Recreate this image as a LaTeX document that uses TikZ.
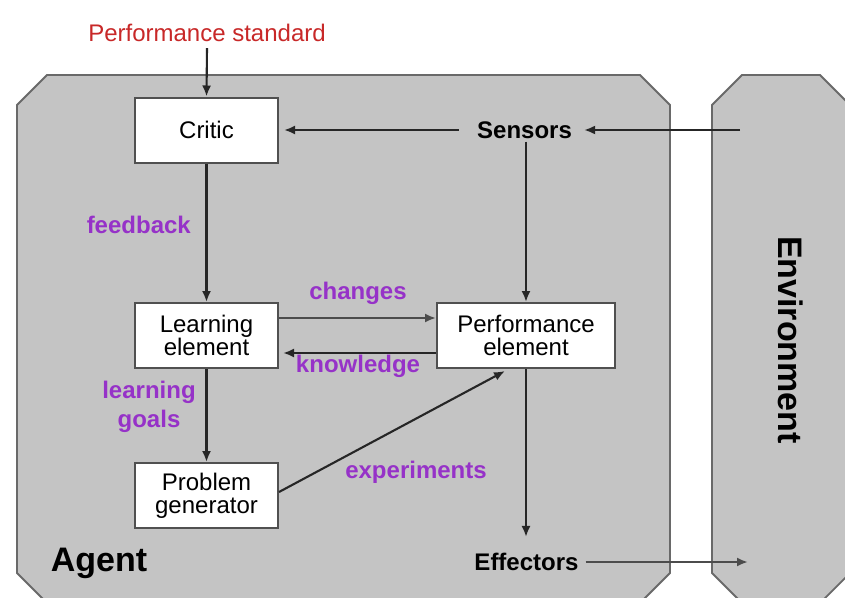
\documentclass[tikz,border=0pt]{standalone}
\usepackage{fontspec}
\setmainfont{Liberation Sans}
\usetikzlibrary{arrows.meta}

\definecolor{agentgray}{RGB}{196,196,196}
\definecolor{edgegray}{RGB}{105,105,105}
\definecolor{boxedge}{RGB}{80,80,80}
\definecolor{labpurple}{RGB}{150,50,200}
\definecolor{stdred}{RGB}{200,40,40}

\begin{document}
\begin{tikzpicture}[x=1pt,y=-1pt,
  panel/.style={fill=agentgray, draw=edgegray, line width=1.8pt},
  elem/.style={draw=boxedge, fill=white, line width=2pt, minimum width=143pt, minimum height=65pt, align=center, inner sep=0pt, font=\fontsize{24}{23}\selectfont},
  lab/.style={text=labpurple, font=\bfseries\fontsize{24}{29}\selectfont, align=center, inner sep=0pt},
  io/.style={font=\bfseries\fontsize{24}{28}\selectfont, inner sep=0pt},
  big/.style={font=\bfseries\fontsize{34}{40}\selectfont, inner sep=0pt},
  arr/.style={-{Latex[length=11pt,width=9pt]}, line width=2.1pt, draw=black!85},
]
\useasboundingbox (0,0) rectangle (845,597);
\fill[white] (0,0) rectangle (845,597);

% panels
\draw[panel] (17,105) -- (47,75) -- (640,75) -- (670,105) -- (670,573) -- (640,603) -- (47,603) -- (17,573) -- cycle;
\draw[panel] (712,105) -- (742,75) -- (820,75) -- (850,105) -- (850,573) -- (820,603) -- (742,603) -- (712,573) -- cycle;

% element boxes
\node[elem] (critic) at (206.5,130) {Critic};
\node[elem] (learn) at (206.5,335.5) {Learning\\element};
\node[elem] (probgen) at (206.5,495.5) {Problem\\generator};
\node[elem, minimum width=178pt] (perf) at (526,335.5) {Performance\\element};

% texts
\node[io] (sensors) at (524.5,130) {Sensors};
\node[io] (effectors) at (526.5,562) {Effectors};
\node[text=stdred, font=\fontsize{24}{28}\selectfont, inner sep=0pt] (std) at (207,33) {Performance standard};
\node[big] (agent) at (99,563) {Agent};
\node[big, rotate=-90] (env) at (791,340) {Environment};

\node[lab, anchor=east] (fb) at (191,225) {feedback};
\node[lab] (chg) at (358,293) {changes};
\node[lab] (know) at (358,366) {knowledge};
\node[lab] (goals) at (149,407) {learning\\goals};
\node[lab] (exp) at (416,472) {experiments};

% free ends
\coordinate (envin) at (740,130);
\coordinate (envout) at (748,562);

% connectors
\draw[arr] ([yshift=-6pt]std.south) -- (critic.north);
\draw[arr, shorten >=12pt] (envin) -- (sensors.east);
\draw[arr, shorten <=18pt, shorten >=5pt] (sensors.west) -- (critic.east);
\draw[arr] (perf.north |- sensors.south) ++(0,3) -- (perf.north);
\draw[arr] (critic.south) -- (learn.north);
\draw[arr, draw=black!70] ([yshift=17.5pt]learn.east) -- ([yshift=17.5pt]perf.west);
\draw[arr, line width=2.6pt, shorten >=4pt] ([yshift=-17.5pt]perf.west) -- ([yshift=-17.5pt]learn.east);
\draw[arr] (learn.south) -- (probgen.north);
\draw[arr] ([yshift=3.5pt]probgen.east) -- ([xshift=-21pt,yshift=-2pt]perf.south);
\draw[arr, shorten >=16pt] (perf.south) -- (perf.south |- effectors.north);
\draw[arr, draw=black!70, line width=2.6pt, shorten <=7pt] (effectors.east) -- (envout);
\end{tikzpicture}
\end{document}
